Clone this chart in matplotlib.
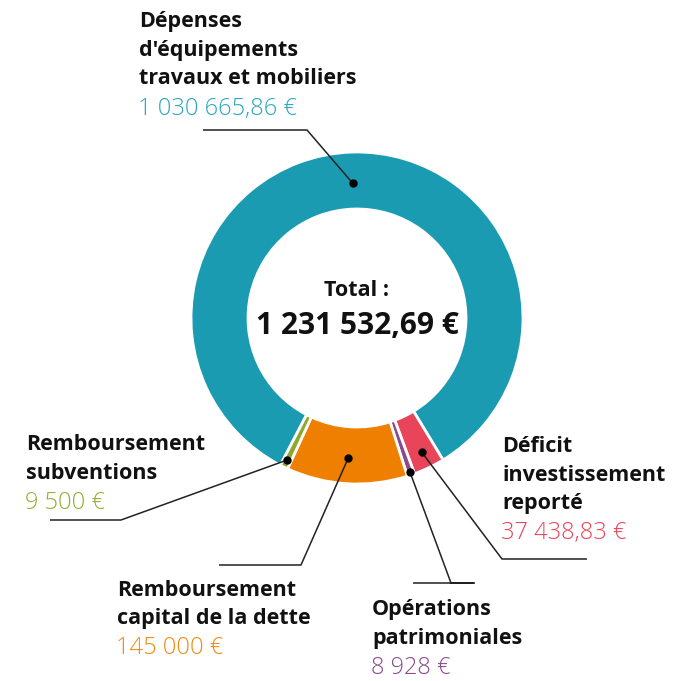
import numpy as np
import matplotlib
matplotlib.use("Agg")
import matplotlib.pyplot as plt

# ---- data ----
categories = ["Dépenses\nd'équipements\ntravaux et mobiliers",
              "Déficit\ninvestissement\nreporté",
              "Opérations\npatrimoniales",
              "Remboursement\ncapital de la dette",
              "Remboursement\nsubventions"]
values = [1030665.86, 37438.83, 8928.0, 145000.0, 9500.0]
value_labels = ["1 030 665,86 €", "37 438,83 €", "8 928 €", "145 000 €", "9 500 €"]
total_label = "1 231 532,69 €"

colors = ["#1B9BB2", "#E8445A", "#8A4A8C", "#EF7F00", "#8CA82F"]
text_colors = ["#2AA5BF", "#E8445A", "#8A4A8C", "#F28A10", "#92AE35"]

W, H = 674, 681
fig = plt.figure(figsize=(W / 100, H / 100), dpi=100)
ax = fig.add_axes([0, 0, 1, 1])

def Y(yp):
    return H - yp

cx, cy = 357, Y(318)
R = 166
width = 57
start = 242.5

wedges, _ = ax.pie(values, colors=colors, startangle=start, counterclock=False,
                   radius=R, center=(cx, cy), frame=True,
                   wedgeprops=dict(width=width, edgecolor="white", linewidth=2))
ax.set_xlim(0, W)
ax.set_ylim(0, H)
ax.set_aspect("equal")
ax.axis("off")

FONT = "Open Sans"
lab_size = 15.5
val_size = 17

dot_r = [135, 149, 163, 140, 158]
leaders = [
    [(203, 130), (307, 130)],
    [(587, 559), (502, 559)],
    [(413, 583), (474, 583), (451, 583)],
    [(219, 565), (301, 565)],
    [(50, 520), (121, 520)],
]
text_pos = [(139, 22), (502, 447), (372, 610), (117, 590), (26, 445)]
line_h = 28.5

cum = np.cumsum([0] + values)
tot = sum(values)
for i, w in enumerate(wedges):
    mid = start - 360 * (cum[i] + values[i] / 2) / tot
    a = np.deg2rad(mid)
    dx, dy = cx + dot_r[i] * np.cos(a), cy + dot_r[i] * np.sin(a)
    pts = [(x, Y(y)) for x, y in leaders[i]] + [(dx, dy)]
    ax.plot([p[0] for p in pts], [p[1] for p in pts], color="#222222", lw=1.1,
            solid_capstyle="butt", zorder=5)
    ax.plot(dx, dy, "o", color="black", ms=5, zorder=6)
    tx, ty = text_pos[i]
    lines = categories[i].split("\n")
    for k, ln in enumerate(lines):
        ax.text(tx, Y(ty + k * line_h), ln, fontsize=lab_size, fontweight="bold",
                family=FONT, ha="left", va="center", color="#111111")
    ax.text(tx - 1, Y(ty + len(lines) * line_h + 1), value_labels[i], fontsize=val_size,
            fontweight=300, family=FONT, ha="left", va="center", color=text_colors[i])

ax.text(cx, Y(291), "Total :", fontsize=15.5, fontweight="bold", family=FONT,
        ha="center", va="center", color="#111111")
ax.text(cx, Y(326), total_label, fontsize=21.5, fontweight="bold", family=FONT,
        ha="center", va="center", color="#111111")

fig.savefig("out.png", dpi=100, facecolor="white")
